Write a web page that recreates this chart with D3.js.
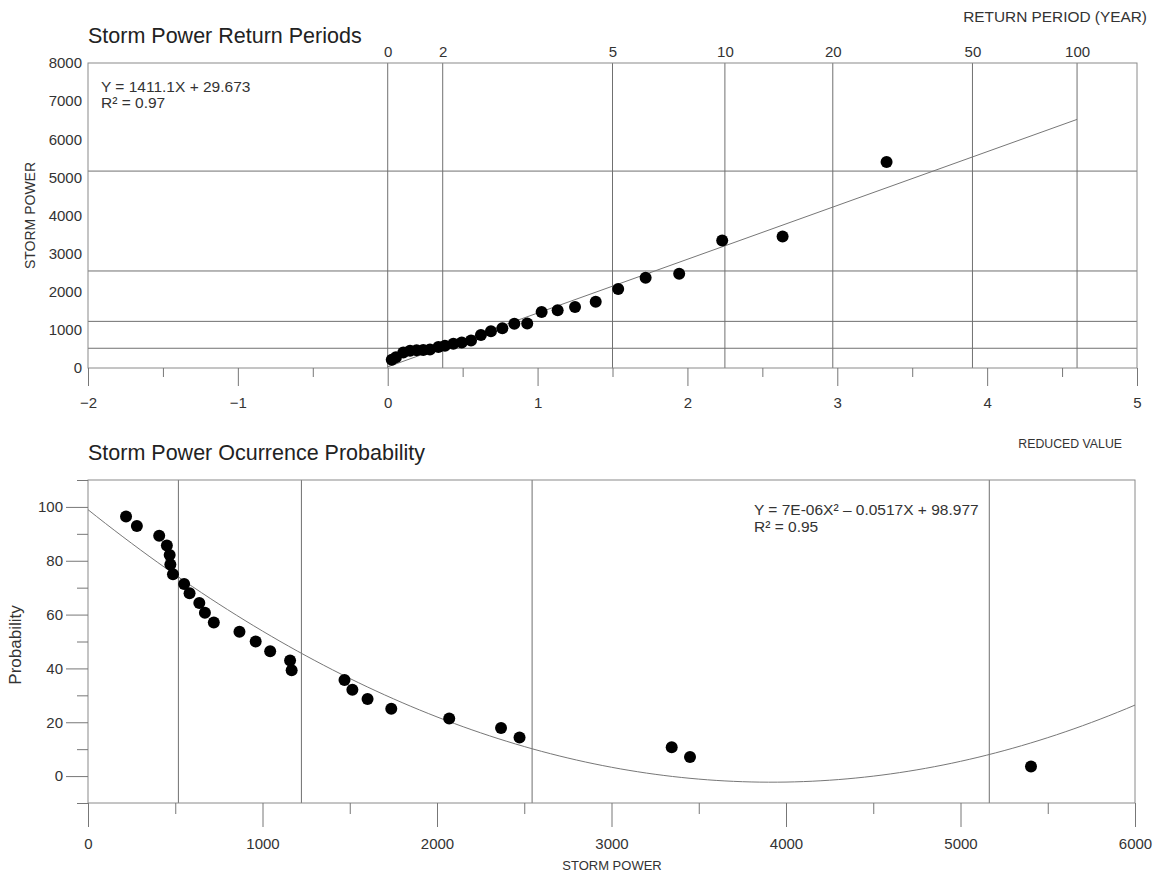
<!DOCTYPE html>
<html>
<meta charset="utf-8">
<style>
  body { margin: 0; background: #fff; }
  svg { display: block; font-family: "Liberation Sans", Arial, sans-serif; }
  .tick text { fill: #333; }
  .grid { stroke: #707070; stroke-width: 1; }
  .frame { stroke: #8a8a8a; stroke-width: 1; fill: none; }
</style>

<body>
  <svg></svg>
</body>

<script src="https://d3js.org/d3.v7.min.js"></script>

<script>

  // data (27 storms, sorted by power)
  var stormPower = [218, 280, 408, 452, 468, 472, 487, 551, 582, 638, 670, 721, 868, 961,
    1044, 1158, 1167, 1470, 1515, 1602, 1738, 2070, 2367, 2473, 3345, 3450, 5404];
  var reducedValue = [0.027, 0.055, 0.104, 0.149, 0.193, 0.237, 0.282, 0.338, 0.382, 0.438,
    0.494, 0.556, 0.622, 0.689, 0.765, 0.845, 0.931, 1.027, 1.134, 1.250, 1.388, 1.538,
    1.721, 1.945, 2.232, 2.635, 3.329];
  var probability = [96.4, 92.9, 89.3, 85.7, 82.1, 78.6, 75.0, 71.4, 67.9, 64.3, 60.7, 57.1,
    53.6, 50.0, 46.4, 42.9, 39.3, 35.7, 32.1, 28.6, 25.0, 21.4, 17.9, 14.3, 10.7, 7.1, 3.6];

  // class limits of storm power (grid lines in both panels)
  var powerLimits = [518, 1223, 2545, 5165];

  // return period axis on top
  var periodLabels = ["0", "2", "5", "10", "20", "50", "100"];
  var periodReduced = [0, 0.367, 1.500, 2.250, 2.970, 3.902, 4.600];

  // tick values
  var topXTicks = [-2, -1, 0, 1, 2, 3, 4, 5];
  var topXMinor = [-1.5, -0.5, 0.5, 1.5, 2.5, 3.5, 4.5];
  var topYTicks = [0, 1000, 2000, 3000, 4000, 5000, 6000, 7000, 8000];
  var botXTicks = [0, 1000, 2000, 3000, 4000, 5000, 6000];
  var botXMinor = [500, 1500, 2500, 3500, 4500, 5500];
  var botYTicks = [0, 20, 40, 60, 80, 100];
  var botYMinor = [-10, 10, 30, 50, 70, 90, 110];

  // fitted trends
  var linFit = [1411.1, 29.673];           // Y = aX + b
  var quadFit = [6.6e-6, -0.0517, 98.977]; // Y = aX^2 + bX + c

  var svg = d3.select("svg")
    .attr("width", 1157)
    .attr("height", 874);

  var plain = d => d < 0 ? "\u2212" + (-d) : String(d);
  var tickFont = 15;

  // ---------------- top panel ----------------
  var xTop = d3.scaleLinear().domain([-2, 5]).range([88, 1137]);
  var yTop = d3.scaleLinear().domain([0, 8000]).range([368, 63]);

  var topG = svg.append("g");

  // vertical grid at return periods
  topG.selectAll(".vgrid")
    .data(periodReduced)
    .enter().append("line")
    .attr("class", "grid")
    .attr("x1", d => xTop(d)).attr("x2", d => xTop(d))
    .attr("y1", yTop(8000)).attr("y2", yTop(0));

  // horizontal grid at power limits
  topG.selectAll(".hgrid")
    .data(powerLimits)
    .enter().append("line")
    .attr("class", "grid")
    .attr("x1", xTop(-2)).attr("x2", xTop(5))
    .attr("y1", d => yTop(d)).attr("y2", d => yTop(d));

  topG.append("rect")
    .attr("class", "frame")
    .attr("x", xTop(-2)).attr("y", yTop(8000))
    .attr("width", xTop(5) - xTop(-2))
    .attr("height", yTop(0) - yTop(8000));

  // bottom axis (reduced value)
  topG.append("g")
    .attr("transform", "translate(0," + yTop(0) + ")")
    .call(d3.axisBottom(xTop).tickValues(topXTicks).tickSize(18).tickPadding(11).tickFormat(plain))
    .call(g => g.select(".domain").remove())
    .call(g => g.selectAll("line").attr("stroke", "#777"))
    .call(g => g.selectAll("text").attr("font-size", tickFont));

  topG.append("g")
    .attr("transform", "translate(0," + yTop(0) + ")")
    .call(d3.axisBottom(xTop).tickValues(topXMinor).tickSize(9).tickFormat(""))
    .call(g => g.select(".domain").remove())
    .call(g => g.selectAll("line").attr("stroke", "#777"));

  // left axis
  topG.append("g")
    .attr("transform", "translate(" + xTop(-2) + ",0)")
    .call(d3.axisLeft(yTop).tickValues(topYTicks).tickSize(0).tickPadding(6).tickFormat(plain))
    .call(g => g.select(".domain").remove())
    .call(g => g.selectAll("text").attr("font-size", tickFont));

  // top axis (return period)
  topG.append("g")
    .attr("transform", "translate(0," + yTop(8000) + ")")
    .call(d3.axisTop(xTop).tickValues(periodReduced).tickSize(0).tickPadding(6)
      .tickFormat((d, i) => periodLabels[i]))
    .call(g => g.select(".domain").remove())
    .call(g => g.selectAll("text").attr("font-size", tickFont));

  // trend line
  var linLine = d3.line()
    .x(d => xTop(d))
    .y(d => yTop(linFit[0] * d + linFit[1]));
  topG.append("path")
    .datum([0, 4.6])
    .attr("d", linLine)
    .attr("fill", "none")
    .attr("stroke", "#777")
    .attr("stroke-width", 1);

  topG.selectAll("circle")
    .data(d3.range(stormPower.length))
    .enter().append("circle")
    .attr("cx", i => xTop(reducedValue[i]))
    .attr("cy", i => yTop(stormPower[i]))
    .attr("r", 6)
    .attr("fill", "#000");

  topG.append("text")
    .attr("x", 88).attr("y", 43)
    .attr("font-size", 21.5).attr("fill", "#222")
    .text("Storm Power  Return Periods");

  topG.append("text")
    .attr("x", 1147).attr("y", 22)
    .attr("text-anchor", "end")
    .attr("font-size", 15.4).attr("fill", "#333")
    .text("RETURN PERIOD (YEAR)");

  topG.append("text")
    .attr("x", 1122).attr("y", 448)
    .attr("text-anchor", "end")
    .attr("font-size", 12.3).attr("fill", "#333")
    .text("REDUCED VALUE");

  topG.append("text")
    .attr("transform", "translate(35," + yTop(4000) + ") rotate(-90)")
    .attr("text-anchor", "middle")
    .attr("font-size", 14).attr("fill", "#333")
    .text("STORM POWER");

  var eq1 = topG.append("text").attr("font-size", 15.5).attr("fill", "#333");
  eq1.append("tspan").attr("x", 101).attr("y", 92).text("Y  = 1411.1X + 29.673");
  eq1.append("tspan").attr("x", 101).attr("y", 108).text("R\u00b2 = 0.97");

  // ---------------- bottom panel ----------------
  var xBot = d3.scaleLinear().domain([0, 6000]).range([88, 1135]);
  var yBot = d3.scaleLinear().domain([-10, 110]).range([803, 480]);

  var botG = svg.append("g");

  botG.selectAll(".vgrid")
    .data(powerLimits)
    .enter().append("line")
    .attr("class", "grid")
    .attr("x1", d => xBot(d)).attr("x2", d => xBot(d))
    .attr("y1", yBot(110)).attr("y2", yBot(-10));

  botG.append("rect")
    .attr("class", "frame")
    .attr("x", xBot(0)).attr("y", yBot(110))
    .attr("width", xBot(6000) - xBot(0))
    .attr("height", yBot(-10) - yBot(110));

  botG.append("g")
    .attr("transform", "translate(0," + yBot(-10) + ")")
    .call(d3.axisBottom(xBot).tickValues(botXTicks).tickSize(24).tickPadding(11).tickFormat(plain))
    .call(g => g.select(".domain").remove())
    .call(g => g.selectAll("line").attr("stroke", "#777"))
    .call(g => g.selectAll("text").attr("font-size", tickFont));

  botG.append("g")
    .attr("transform", "translate(0," + yBot(-10) + ")")
    .call(d3.axisBottom(xBot).tickValues(botXMinor).tickSize(11).tickFormat(""))
    .call(g => g.select(".domain").remove())
    .call(g => g.selectAll("line").attr("stroke", "#777"));

  botG.append("g")
    .attr("transform", "translate(" + xBot(0) + ",0)")
    .call(d3.axisLeft(yBot).tickValues(botYTicks).tickSize(22).tickPadding(3).tickFormat(plain))
    .call(g => g.select(".domain").remove())
    .call(g => g.selectAll("line").attr("stroke", "#777"))
    .call(g => g.selectAll("text").attr("font-size", tickFont));

  botG.append("g")
    .attr("transform", "translate(" + xBot(0) + ",0)")
    .call(d3.axisLeft(yBot).tickValues(botYMinor).tickSize(11).tickFormat(""))
    .call(g => g.select(".domain").remove())
    .call(g => g.selectAll("line").attr("stroke", "#777"));

  var quadLine = d3.line()
    .x(d => xBot(d))
    .y(d => yBot(quadFit[0] * d * d + quadFit[1] * d + quadFit[2]));
  botG.append("path")
    .datum(d3.range(0, 6001, 50))
    .attr("d", quadLine)
    .attr("fill", "none")
    .attr("stroke", "#777")
    .attr("stroke-width", 1);

  botG.selectAll("circle")
    .data(d3.range(stormPower.length))
    .enter().append("circle")
    .attr("cx", i => xBot(stormPower[i]))
    .attr("cy", i => yBot(probability[i]))
    .attr("r", 6)
    .attr("fill", "#000");

  botG.append("text")
    .attr("x", 88).attr("y", 460)
    .attr("font-size", 21.5).attr("fill", "#222")
    .text("Storm Power Ocurrence Probability");

  botG.append("text")
    .attr("x", 612).attr("y", 870)
    .attr("text-anchor", "middle")
    .attr("font-size", 13).attr("fill", "#333")
    .text("STORM POWER");

  botG.append("text")
    .attr("transform", "translate(21,645) rotate(-90)")
    .attr("text-anchor", "middle")
    .attr("font-size", 17).attr("fill", "#333")
    .text("Probability");

  var eq2 = botG.append("text").attr("font-size", 15.5).attr("fill", "#333");
  eq2.append("tspan").attr("x", 754).attr("y", 515).text("Y  = 7E-06X\u00b2 \u2013 0.0517X + 98.977");
  eq2.append("tspan").attr("x", 754).attr("y", 532).text("R\u00b2 = 0.95");

</script>

</html>
